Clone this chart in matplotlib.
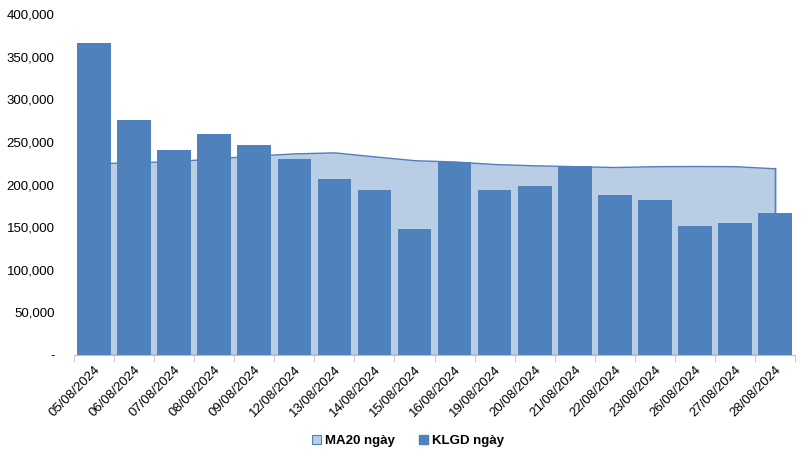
import numpy as np
import matplotlib.pyplot as plt
from matplotlib.patches import Patch
from matplotlib.ticker import FuncFormatter

plt.rcParams['font.family'] = ['Liberation Sans', 'DejaVu Sans']

dates = ['05/08/2024', '06/08/2024', '07/08/2024', '08/08/2024', '09/08/2024',
         '12/08/2024', '13/08/2024', '14/08/2024', '15/08/2024', '16/08/2024',
         '19/08/2024', '20/08/2024', '21/08/2024', '22/08/2024', '23/08/2024',
         '26/08/2024', '27/08/2024', '28/08/2024']
klgd = [366000, 275500, 240500, 259000, 246000, 230000, 206500, 193500, 148000,
        226000, 193500, 198000, 221500, 187500, 182000, 151000, 155000, 166500]
ma20 = [225000, 226000, 227500, 230500, 234000, 236500, 237700, 233000, 228500,
        227000, 224000, 222500, 221500, 220500, 221500, 221700, 221500, 219000]

bar_color = '#4F81BD'
area_color = '#B9CDE5'

fig = plt.figure(figsize=(8.08, 4.58), dpi=100)
ax = fig.add_axes([0.0916, 0.2249, 0.8924, 0.7445])

x = np.arange(len(dates))
ax.fill_between(x, 0, ma20, facecolor=area_color, edgecolor=bar_color,
                linewidth=1.0, zorder=1)
ax.plot([x[-1], x[-1]], [0, ma20[-1]], color=bar_color, lw=1.0, zorder=1)
ax.bar(x, klgd, width=0.84, color=bar_color, zorder=2)

ax.set_xlim(-0.5, len(dates) - 0.5)
ax.set_ylim(0, 400000)
ax.set_yticks(np.arange(0, 400001, 50000))
ax.yaxis.set_major_formatter(FuncFormatter(lambda v, p: '-' if v == 0 else f'{int(v):,}'))
ax.tick_params(axis='y', length=0, labelsize=9.5, pad=14)

ax.set_xticks(x)
ax.set_xticklabels(dates, rotation=45, ha='right', rotation_mode='anchor', fontsize=9.5)
ax.set_xticks(np.arange(-0.5, len(dates), 1), minor=True)
ax.tick_params(axis='x', which='major', length=0, pad=6)
ax.tick_params(axis='x', which='minor', length=5, color='#BFBFBF', direction='out')

for side in ['top', 'right', 'left']:
    ax.spines[side].set_visible(False)
ax.spines['bottom'].set_color('#BFBFBF')

handles = [Patch(facecolor=area_color, edgecolor=bar_color, lw=0.8, label='MA20 ngày'),
           Patch(facecolor=bar_color, edgecolor=bar_color, label='KLGD ngày')]
fig.legend(handles=handles, loc='center', bbox_to_anchor=(0.505, 0.037), ncol=2,
           frameon=False, prop={'weight': 'bold', 'size': 9.5},
           handlelength=0.7, handleheight=0.7, handletextpad=0.3, columnspacing=1.8)

fig.savefig('out.png', dpi=100)
